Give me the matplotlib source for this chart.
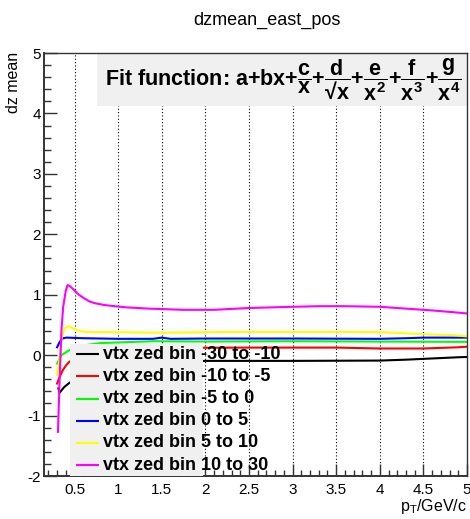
"""
dzmean_east_pos — dz mean vs pT for six vertex z bins, ROOT-style look.
"""

import matplotlib
matplotlib.use("Agg")
import matplotlib.pyplot as plt
from matplotlib.patches import Rectangle
from matplotlib.ticker import MultipleLocator, FixedLocator, FixedFormatter

plt.rcParams["font.family"] = ["Liberation Sans", "DejaVu Sans"]
plt.rcParams["mathtext.fontset"] = "custom"
plt.rcParams["mathtext.rm"] = "Liberation Sans:bold"
plt.rcParams["mathtext.it"] = "Liberation Sans:bold"
plt.rcParams["mathtext.bf"] = "Liberation Sans:bold"
plt.rcParams["mathtext.fallback"] = "stixsans"
plt.rcParams["axes.unicode_minus"] = False

# ─── Data ────────────────────────────────────────────────────────────────────
LABELS = ["vtx zed bin -30 to -10", "vtx zed bin -10 to -5", "vtx zed bin -5 to 0",
          "vtx zed bin 0 to 5", "vtx zed bin 5 to 10", "vtx zed bin 10 to 30"]
COLOURS = ["#000000", "#ff0000", "#00ff00", "#0000ff", "#ffff00", "#ff00ff"]

blk_x = [0.315, 0.33, 0.38, 0.44, 0.55, 0.7, 1.0, 1.5, 2.0, 3.0, 4.0, 4.3, 4.6, 4.9, 5.0]
blk_y = [-0.55, -0.62, -0.53, -0.46, -0.36, -0.25, -0.16, -0.11, -0.095, -0.095, -0.09,
         -0.075, -0.055, -0.035, -0.03]

red_x = [0.30, 0.33, 0.365, 0.405, 0.44, 0.55, 0.7, 1.0, 1.5, 2.5, 3.5, 4.0, 4.5, 4.9, 5.0]
red_y = [-0.47, -0.36, -0.25, -0.165, -0.11, -0.02, 0.05, 0.10, 0.12, 0.125, 0.125, 0.11,
         0.11, 0.13, 0.14]

grn_x = [0.30, 0.35, 0.41, 0.46, 0.6, 0.8, 1.0, 1.4, 2.0, 3.0, 4.0, 5.0]
grn_y = [-0.14, 0.0, 0.055, 0.10, 0.16, 0.20, 0.21, 0.23, 0.225, 0.23, 0.225, 0.22]

blu_x = [0.30, 0.33, 0.37, 0.41, 0.6, 1.0, 1.4, 1.5, 1.6, 2.0, 3.0, 4.0, 4.3, 4.5, 5.0]
blu_y = [0.13, 0.22, 0.28, 0.29, 0.28, 0.27, 0.27, 0.29, 0.27, 0.275, 0.275, 0.27, 0.28,
         0.29, 0.29]

yel_x = [0.30, 0.33, 0.355, 0.385, 0.43, 0.50, 0.58, 0.73, 1.0, 1.5, 2.0, 2.5, 3.0, 3.5,
         4.0, 4.3, 4.6, 4.85, 5.0]
yel_y = [-0.33, -0.05, 0.30, 0.44, 0.48, 0.43, 0.39, 0.38, 0.38, 0.37, 0.38, 0.385, 0.385,
         0.385, 0.38, 0.36, 0.34, 0.33, 0.31]

mag_x = [0.31, 0.33, 0.35, 0.37, 0.40, 0.42, 0.45, 0.50, 0.55, 0.61, 0.67, 0.73, 0.84, 0.96,
         1.1, 1.35, 1.75, 2.1, 2.5, 3.0, 3.3, 3.6, 4.0, 4.3, 4.6, 4.85, 5.0]
mag_y = [-1.27, -0.36, 0.41, 0.80, 1.07, 1.16, 1.14, 1.07, 1.00, 0.94, 0.89, 0.86, 0.83,
         0.81, 0.79, 0.77, 0.75, 0.75, 0.78, 0.80, 0.81, 0.81, 0.80, 0.77, 0.74, 0.71, 0.69]

SERIES = [(blk_x, blk_y), (red_x, red_y), (grn_x, grn_y),
          (blu_x, blu_y), (yel_x, yel_y), (mag_x, mag_y)]

X_MAJOR = [0.5, 1, 1.5, 2, 2.5, 3, 3.5, 4, 4.5, 5]
X_TICKLABELS = ["0.5", "1", "1.5", "2", "2.5", "3", "3.5", "4", "4.5", "5"]
Y_MAJOR = [-2, -1, 0, 1, 2, 3, 4, 5]
Y_TICKLABELS = ["-2", "-1", "0", "1", "2", "3", "4", "5"]
GRID_X = [0.5, 1, 1.5, 2, 2.5, 3, 3.5, 4, 4.5]

# plain "+" between the math pieces keeps ROOT's tight spacing
FIT_TEXT = ("Fit function: a+bx+$\\dfrac{c}{x}$+$\\dfrac{d}{\u221ax}$+$\\dfrac{e}{x^{2}}$"
            "+$\\dfrac{f}{x^{3}}$+$\\dfrac{g}{x^{4}}$")
BOX_GREY = "#f0f0f0"


def main():
    fig = plt.figure(figsize=(4.7, 5.19), dpi=100)
    ax = fig.add_axes([44 / 470, 43 / 519, 423 / 470, 423 / 519])
    ax.set_xlim(0.15, 5.0)
    ax.set_ylim(-2, 5)

    # dotted vertical grid
    for gx in GRID_X:
        ax.axvline(gx, color="black", linewidth=0.8, linestyle=(0, (1, 2)), zorder=1)

    for (xs, ys), col in zip(SERIES, COLOURS):
        ax.plot(xs, ys, color=col, linewidth=1.5, zorder=2)

    # fit-function box
    ax.add_patch(Rectangle((0.125, 0.875), 0.875, 0.125, transform=ax.transAxes,
                           facecolor=BOX_GREY, edgecolor="none", zorder=4))
    ax.text(0.145, 0.936, FIT_TEXT, transform=ax.transAxes, fontsize=15.5,
            fontweight="bold", ha="left", va="center", zorder=5)

    # legend box (ROOT TLegend, text overflows the box)
    ax.add_patch(Rectangle((0.0615, 0.0), 0.3145, 0.312, transform=ax.transAxes,
                           facecolor=BOX_GREY, edgecolor="none", zorder=4))
    for i, (lab, col) in enumerate(zip(LABELS, COLOURS)):
        yy = 0.288 - i * 0.0524
        ax.plot([0.0757, 0.130], [yy, yy], transform=ax.transAxes, color=col,
                linewidth=1.5, zorder=5, solid_capstyle="butt")
        ax.text(0.139, yy, lab, transform=ax.transAxes, fontsize=13,
                fontweight="bold", ha="left", va="center", zorder=5)

    # ticks
    ax.xaxis.set_major_locator(FixedLocator(X_MAJOR))
    ax.xaxis.set_major_formatter(FixedFormatter(X_TICKLABELS))
    ax.xaxis.set_minor_locator(MultipleLocator(0.1))
    ax.yaxis.set_major_locator(FixedLocator(Y_MAJOR))
    ax.yaxis.set_major_formatter(FixedFormatter(Y_TICKLABELS))
    ax.yaxis.set_minor_locator(MultipleLocator(0.2))
    ax.tick_params(axis="both", which="both", direction="in", top=False, right=False,
                   colors="#333333", labelcolor="black", labelsize=11)
    ax.tick_params(axis="x", which="major", length=8.5, width=1.0, pad=5)
    ax.tick_params(axis="x", which="minor", length=4.3, width=1.0)
    ax.tick_params(axis="y", which="major", length=9.5, width=1.0, pad=2)
    ax.tick_params(axis="y", which="minor", length=4.7, width=1.0)
    for side in ["left", "bottom", "top", "right"]:
        ax.spines[side].set_color("#333333")
        ax.spines[side].set_linewidth(1.0)
    ax.spines["left"].set_linewidth(1.4)
    ax.spines["bottom"].set_linewidth(1.4)
    ax.spines["top"].set_zorder(6)
    ax.spines["right"].set_zorder(6)

    # titles
    fig.text(267 / 470, 1 - 20 / 519, "dzmean_east_pos", fontsize=13,
             ha="center", va="center")
    fig.text(14 / 470, 1 - 52 / 519, "dz mean", fontsize=11.5, rotation=90,
             ha="center", va="top")
    fig.text(467 / 470, 1 - 507 / 519, r"$\mathregular{p_{T}}$/GeV/c", fontsize=11.5,
             ha="right", va="center")

    fig.savefig("out.png", dpi=100)
    plt.close(fig)


if __name__ == "__main__":
    main()
